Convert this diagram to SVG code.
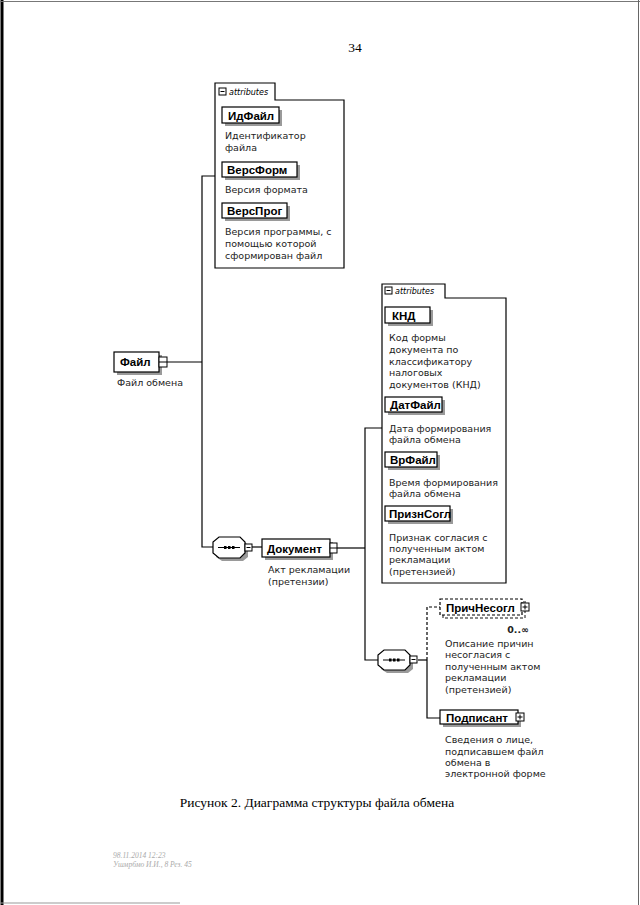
<svg xmlns="http://www.w3.org/2000/svg" width="640" height="905" viewBox="0 0 640 905">
<style>
.lbl{font-family:"Liberation Sans",Arial,sans-serif;font-weight:bold;font-size:11.5px;fill:#000}
.desc{font-family:"DejaVu Sans",Verdana,sans-serif;font-size:9.5px;fill:#222}
.tab{font-family:"DejaVu Sans",Verdana,sans-serif;font-style:italic;font-size:8px;fill:#000}
.box{fill:#fff;stroke:#000;stroke-width:1.2}
.shd{fill:#9a9a9a}
.ln{fill:none;stroke:#000;stroke-width:1.2}
.dash{fill:none;stroke:#000;stroke-width:1.2;stroke-dasharray:3,2}
.icon{fill:#fff;stroke:#000;stroke-width:1}
.cap{font-family:"Liberation Serif","Times New Roman",serif;font-size:13.5px;fill:#000}
.foot{font-family:"Liberation Serif","Times New Roman",serif;font-style:italic;font-size:7.5px;fill:#aaa}
</style>
<defs>
<g id="minus"><rect class="icon" x="0" y="0" width="7" height="7"/><line x1="1.5" y1="3.5" x2="5.5" y2="3.5" stroke="#000" stroke-width="1"/></g>
<g id="plus"><rect class="icon" x="0" y="0" width="8" height="8"/><line x1="1.5" y1="4" x2="6.5" y2="4" stroke="#000" stroke-width="1"/><line x1="4" y1="1.5" x2="4" y2="6.5" stroke="#000" stroke-width="1"/></g>
</defs>
<rect width="640" height="905" fill="#fff"/>
<g id="frame">
<line x1="2" y1="0" x2="2" y2="905" stroke="#000" stroke-width="3"/>
<line x1="0" y1="1.5" x2="640" y2="1.5" stroke="#777" stroke-width="1"/>
<line x1="638.5" y1="0" x2="638.5" y2="905" stroke="#666" stroke-width="1"/>
<line x1="0" y1="903" x2="180" y2="903" stroke="#999" stroke-width="1"/>
</g>
<text x="355" y="52" class="cap" font-size="13" text-anchor="middle">34</text>

<g id="connectors">
<polyline class="ln" points="215,176 202,176 202,547 213,547"/>
<line class="ln" x1="167" y1="362" x2="202" y2="362"/>
<line class="ln" x1="252" y1="547" x2="262" y2="547"/>
<polyline class="ln" points="382,428 365,428 365,660 378,660"/>
<line class="ln" x1="337" y1="548" x2="365" y2="548"/>
<line class="ln" x1="418" y1="660" x2="427" y2="660"/>
<polyline class="dash" points="427,660 427,607 440,607"/>
<polyline class="ln" points="427,660 427,718 440,718"/>
</g>

<g id="attrs1">
<path class="ln" d="M215,83 H275 V100 H344 V268 H215 Z"/>
<use href="#minus" x="219" y="88"/>
<text x="229" y="95" class="tab">attributes</text>
</g>
<g id="ИдФайл">
<rect class="shd" x="225" y="110" width="57" height="16"/>
<rect class="box" x="222" y="107" width="57" height="16"/>
<text x="228" y="119.5" class="lbl">ИдФайл</text>
<text x="225" y="139" class="desc">Идентификатор</text>
<text x="225" y="151" class="desc">файла</text>
</g>
<g id="ВерсФорм">
<rect class="shd" x="225" y="165" width="75" height="15"/>
<rect class="box" x="222" y="162" width="75" height="15"/>
<text x="227" y="174" class="lbl">ВерсФорм</text>
<text x="225" y="193" class="desc">Версия формата</text>
</g>
<g id="ВерсПрог">
<rect class="shd" x="225" y="206" width="65" height="15"/>
<rect class="box" x="222" y="203" width="65" height="15"/>
<text x="227" y="215" class="lbl">ВерсПрог</text>
<text x="225" y="235" class="desc">Версия программы, с</text>
<text x="225" y="247" class="desc">помощью которой</text>
<text x="225" y="259" class="desc">сформирован файл</text>
</g>

<g id="Файл">
<rect class="shd" x="117" y="355" width="45" height="20"/>
<rect class="box" x="114" y="352" width="45" height="20"/>
<text x="120" y="366" class="lbl">Файл</text>
<rect class="icon" x="159" y="357" width="8" height="10"/>
<line x1="159" y1="362" x2="167" y2="362" stroke="#000" stroke-width="1"/>
<text x="150" y="386" class="desc" text-anchor="middle">Файл обмена</text>
</g>

<g id="seq1">
<path class="shd" d="M222,540 H243 L248,545 V557 L243,561 H222 L216,557 V545 Z"/>
<path class="box" d="M219,537 H240 L245,542 V553 L240,558 H219 L213,553 V542 Z"/>
<line x1="218" y1="547.5" x2="240" y2="547.5" stroke="#000" stroke-width="1"/>
<rect x="224" y="546" width="2.5" height="3" fill="#000"/><rect x="228" y="546" width="2.5" height="3" fill="#000"/><rect x="232" y="546" width="2.5" height="3" fill="#000"/>
<use href="#minus" x="245" y="544"/>
</g>

<g id="Документ">
<rect class="shd" x="265" y="542" width="68" height="18"/>
<rect class="box" x="262" y="539" width="68" height="18"/>
<text x="267" y="552.5" class="lbl">Документ</text>
<rect class="icon" x="330" y="543" width="7" height="10"/>
<line x1="330" y1="548" x2="337" y2="548" stroke="#000" stroke-width="1"/>
<text x="268" y="573" class="desc">Акт рекламации</text>
<text x="268" y="585" class="desc">(претензии)</text>
</g>

<g id="attrs2">
<path class="ln" d="M382,284 H445 V298 H506 V583 H382 Z"/>
<use href="#minus" x="385" y="287"/>
<text x="395" y="294" class="tab">attributes</text>
</g>
<g id="КНД">
<rect class="shd" x="388" y="310" width="45" height="16"/>
<rect class="box" x="385" y="307" width="45" height="16"/>
<text x="392" y="319.5" class="lbl">КНД</text>
<text x="389" y="341" class="desc">Код формы</text>
<text x="389" y="353" class="desc">документа по</text>
<text x="389" y="365" class="desc">классификатору</text>
<text x="389" y="376" class="desc">налоговых</text>
<text x="389" y="388" class="desc">документов (КНД)</text>
</g>
<g id="ДатФайл">
<rect class="shd" x="388" y="400" width="57" height="15"/>
<rect class="box" x="385" y="397" width="57" height="15"/>
<text x="390" y="409" class="lbl">ДатФайл</text>
<text x="389" y="432" class="desc">Дата формирования</text>
<text x="389" y="443" class="desc">файла обмена</text>
</g>
<g id="ВрФайл">
<rect class="shd" x="388" y="455" width="52" height="15"/>
<rect class="box" x="385" y="452" width="52" height="15"/>
<text x="390" y="464" class="lbl">ВрФайл</text>
<text x="389" y="486" class="desc">Время формирования</text>
<text x="389" y="497" class="desc">файла обмена</text>
</g>
<g id="ПризнСогл">
<rect class="shd" x="388" y="509" width="65" height="15"/>
<rect class="box" x="385" y="506" width="65" height="15"/>
<text x="389" y="518" class="lbl">ПризнСогл</text>
<text x="389" y="541" class="desc">Признак согласия с</text>
<text x="389" y="552" class="desc">полученным актом</text>
<text x="389" y="563" class="desc">рекламации</text>
<text x="389" y="575" class="desc">(претензией)</text>
</g>

<g id="seq2">
<path class="shd" d="M387,653 H408 L413,658 V669 L408,673 H387 L381,669 V658 Z"/>
<path class="box" d="M384,650 H405 L410,655 V665 L405,670 H384 L378,665 V655 Z"/>
<line x1="383" y1="660" x2="405" y2="660" stroke="#000" stroke-width="1"/>
<rect x="389" y="658.5" width="2.5" height="3" fill="#000"/><rect x="393" y="658.5" width="2.5" height="3" fill="#000"/><rect x="397" y="658.5" width="2.5" height="3" fill="#000"/>
<use href="#minus" x="410" y="656"/>
</g>

<g id="ПричНесогл">
<rect x="443" y="602" width="82" height="16" fill="none" stroke="#888" stroke-width="2" stroke-dasharray="3,2"/>
<rect x="440" y="599" width="82" height="16" fill="#fff" stroke="#000" stroke-width="1.2" stroke-dasharray="3,2"/>
<text x="446" y="611.5" class="lbl">ПричНесогл</text>
<use href="#plus" x="521" y="603"/>
<text x="529" y="633" class="desc" font-weight="bold" font-size="8.5" text-anchor="end">0..∞</text>
<text x="445" y="647" class="desc">Описание причин</text>
<text x="445" y="658" class="desc">несогласия с</text>
<text x="445" y="670" class="desc">полученным актом</text>
<text x="445" y="681" class="desc">рекламации</text>
<text x="445" y="693" class="desc">(претензией)</text>
</g>

<g id="Подписант">
<rect class="shd" x="443" y="713" width="78" height="14"/>
<rect class="box" x="440" y="710" width="78" height="14"/>
<text x="446" y="721.5" class="lbl">Подписант</text>
<use href="#plus" x="516" y="713"/>
<text x="445" y="743" class="desc">Сведения о лице,</text>
<text x="445" y="755" class="desc">подписавшем файл</text>
<text x="445" y="766" class="desc">обмена в</text>
<text x="445" y="777" class="desc">электронной форме</text>
</g>

<text x="317" y="807" class="cap" text-anchor="middle">Рисунок 2. Диаграмма структуры файла обмена</text>
<text x="113" y="858" class="foot">98.11.2014 12:23</text>
<text x="113" y="867" class="foot">Ушмрбмо И.И., 8 Рез. 45</text>
</svg>
